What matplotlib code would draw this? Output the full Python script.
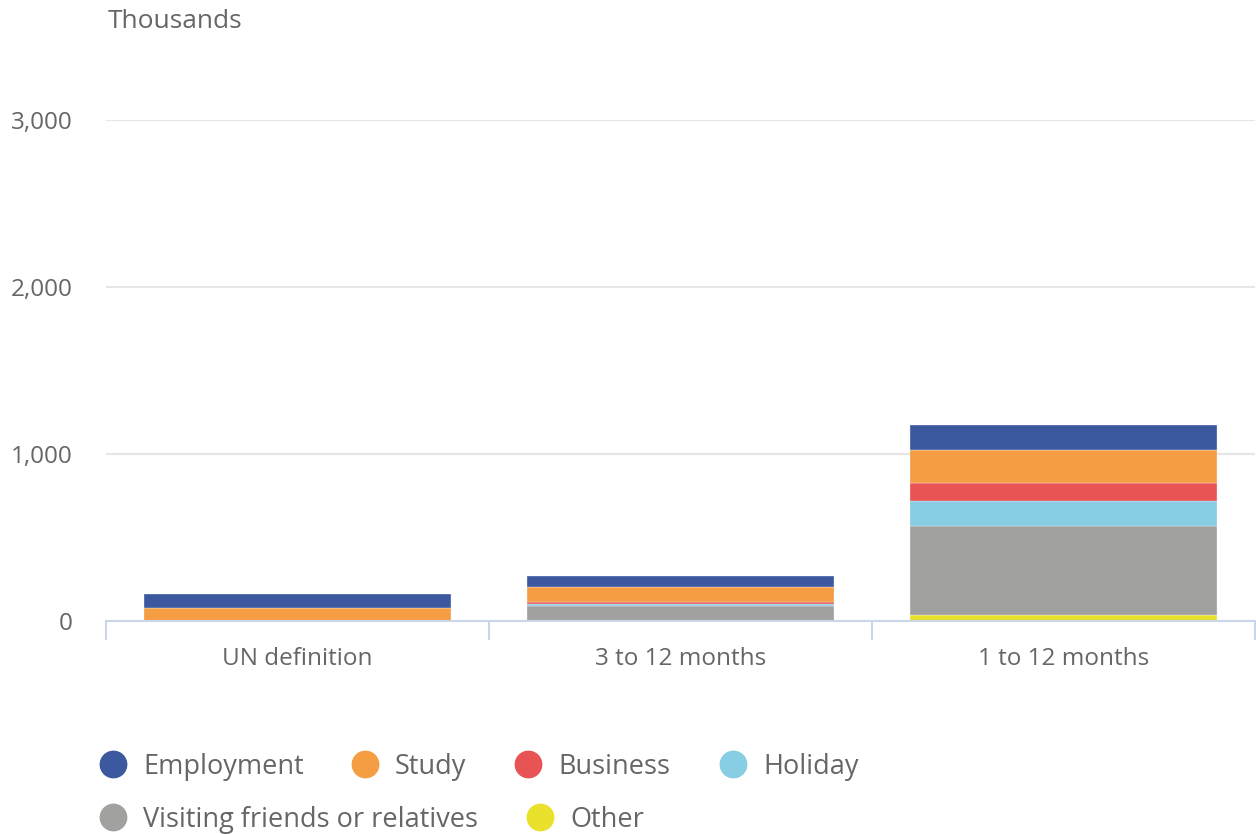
import matplotlib.pyplot as plt
from matplotlib.lines import Line2D
import numpy as np

plt.rcParams['font.family'] = ['Open Sans', 'DejaVu Sans']

categories = ['UN definition', '3 to 12 months', '1 to 12 months']
# values in thousands, stacked bottom to top
other = [0, 0, 30]
visiting = [0, 86, 537]
holiday = [0, 14, 150]
business = [0, 10, 105]
study = [75, 93, 202]
employment = [82, 66, 148]

series = [
    ('Other', other, '#e9e12c'),
    ('Visiting friends or relatives', visiting, '#a1a1a0'),
    ('Holiday', holiday, '#87cde4'),
    ('Business', business, '#e85354'),
    ('Study', study, '#f59d42'),
    ('Employment', employment, '#3c59a0'),
]
yticks = [0, 1000, 2000, 3000]
ytick_labels = ['0', '1,000', '2,000', '3,000']

W, H = 1256, 834
fig = plt.figure(figsize=(W / 100, H / 100), dpi=100)
ax = fig.add_axes([106 / W, 1 - 620.5 / H, 1149 / W, 500.5 / H])

x = np.arange(len(categories))
bottom = np.zeros(len(categories))
for name, vals, col in series:
    ax.bar(x, vals, 0.8, bottom=bottom, color=col, edgecolor='#f4f4f4', linewidth=0.25, zorder=3)
    bottom += np.array(vals)

ax.set_xlim(-0.5, 2.5)
ax.set_ylim(0, 3000)
ax.set_yticks(yticks)
ax.set_yticklabels(ytick_labels)
ax.grid(axis='y', color='#e6e6e6', linewidth=1.5, zorder=0)
ax.set_axisbelow(True)
for s in ['top', 'right', 'left']:
    ax.spines[s].set_visible(False)
ax.spines['bottom'].set_color('#ccd6eb')
ax.spines['bottom'].set_linewidth(1.5)
ax.spines['bottom'].set_zorder(4)
ax.spines['bottom'].set_clip_on(False)

ax.set_xticks(x)
ax.set_xticklabels(categories)
ax.set_xticks([-0.5, 0.5, 1.5, 2.5], minor=True)
ax.tick_params(axis='x', which='major', length=0, pad=19, labelsize=17.5, labelcolor='#666666')
ax.tick_params(axis='x', which='minor', length=14, width=1.5, color='#ccd6eb')
ax.tick_params(axis='y', length=0, pad=24, labelsize=17.5, labelcolor='#666666')

fig.text(108 / W, 1 - 22 / H, 'Thousands', fontsize=19, color='#666666', va='center', ha='left')

# legend, laid out in two rows
legend_items = [
    ('Employment', '#3c59a0', 113, 764),
    ('Study', '#f59d42', 365, 764),
    ('Business', '#e85354', 528, 764),
    ('Holiday', '#87cde4', 733, 764),
    ('Visiting friends or relatives', '#a1a1a0', 113, 817),
    ('Other', '#e9e12c', 540, 817),
]
for label, col, px, py in legend_items:
    fig.add_artist(Line2D([px / W], [1 - py / H], marker='o', markersize=19,
                          color=col, linestyle='none', transform=fig.transFigure))
    fig.text((px + 30) / W, 1 - (py + 10) / H, label, fontsize=19.5, color='#666666',
             va='baseline', ha='left')

fig.savefig('out.png', dpi=100)
